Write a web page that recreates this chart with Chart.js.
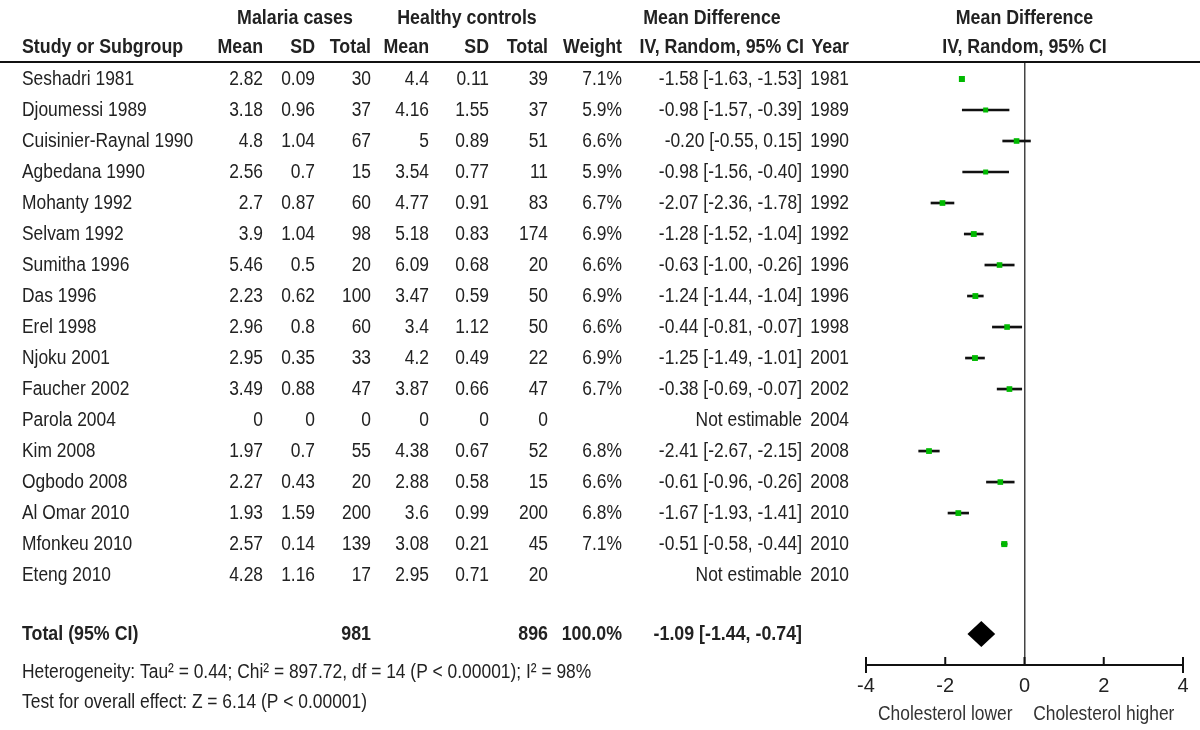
<!DOCTYPE html>
<html>
<head>
<meta charset="utf-8">
<script src="https://cdn.jsdelivr.net/npm/chart.js@4.4.1/dist/chart.umd.min.js"></script>
<style>
  html, body { margin: 0; padding: 0; background: #fff; }
  canvas { display: block; }
</style>
</head>
<body>
<canvas id="forest" width="1200" height="730"></canvas>
<script>
// study rows
const studies = ['Seshadri 1981', 'Djoumessi 1989', 'Cuisinier-Raynal 1990', 'Agbedana 1990', 'Mohanty 1992',
  'Selvam 1992', 'Sumitha 1996', 'Das 1996', 'Erel 1998', 'Njoku 2001', 'Faucher 2002', 'Parola 2004',
  'Kim 2008', 'Ogbodo 2008', 'Al Omar 2010', 'Mfonkeu 2010', 'Eteng 2010'];
const years = [1981, 1989, 1990, 1990, 1992, 1992, 1996, 1996, 1998, 2001, 2002, 2004, 2008, 2008, 2010, 2010, 2010];

// malaria cases
const caseMean = [2.82, 3.18, 4.8, 2.56, 2.7, 3.9, 5.46, 2.23, 2.96, 2.95, 3.49, 0, 1.97, 2.27, 1.93, 2.57, 4.28];
const caseSD = [0.09, 0.96, 1.04, 0.7, 0.87, 1.04, 0.5, 0.62, 0.8, 0.35, 0.88, 0, 0.7, 0.43, 1.59, 0.14, 1.16];
const caseN = [30, 37, 67, 15, 60, 98, 20, 100, 60, 33, 47, 0, 55, 20, 200, 139, 17];

// healthy controls
const ctrlMean = [4.4, 4.16, 5, 3.54, 4.77, 5.18, 6.09, 3.47, 3.4, 4.2, 3.87, 0, 4.38, 2.88, 3.6, 3.08, 2.95];
const ctrlSD = [0.11, 1.55, 0.89, 0.77, 0.91, 0.83, 0.68, 0.59, 1.12, 0.49, 0.66, 0, 0.67, 0.58, 0.99, 0.21, 0.71];
const ctrlN = [39, 37, 51, 11, 83, 174, 20, 50, 50, 22, 47, 0, 52, 15, 200, 45, 20];

// mean difference, IV random (null = not estimable)
const weights = [7.1, 5.9, 6.6, 5.9, 6.7, 6.9, 6.6, 6.9, 6.6, 6.9, 6.7, null, 6.8, 6.6, 6.8, 7.1, null];
const md = [-1.58, -0.98, -0.20, -0.98, -2.07, -1.28, -0.63, -1.24, -0.44, -1.25, -0.38, null, -2.41, -0.61, -1.67, -0.51, null];
const ciLow = [-1.63, -1.57, -0.55, -1.56, -2.36, -1.52, -1.00, -1.44, -0.81, -1.49, -0.69, null, -2.67, -0.96, -1.93, -0.58, null];
const ciHigh = [-1.53, -0.39, 0.15, -0.40, -1.78, -1.04, -0.26, -1.04, -0.07, -1.01, -0.07, null, -2.15, -0.26, -1.41, -0.44, null];

// pooled result
const totalCases = 981;
const totalCtrl = 896;
const totalWeight = 100.0;
const totalMd = -1.09;
const totalLow = -1.44;
const totalHigh = -0.74;
const heterogeneity = 'Heterogeneity: Tau\u00b2 = 0.44; Chi\u00b2 = 897.72, df = 14 (P < 0.00001); I\u00b2 = 98%';
const overallTest = 'Test for overall effect: Z = 6.14 (P < 0.00001)';

// axis
const xTicks = [-4, -2, 0, 2, 4];
const favourLabels = ['Cholesterol lower', 'Cholesterol higher'];

const FONT = '"Liberation Sans", Arial, sans-serif';
const TEXT = '#222';
const TOTAL_ROW = 17.9;
const HET_ROW = 19.15;
const TEST_ROW = 20.12;

const fmt = (v) => (v < 0 ? '-' : '') + Math.abs(v).toFixed(2);

// indices of rows that have an estimate
const est = studies.map((_, i) => i).filter((i) => md[i] !== null);

const tablePlugin = {
  id: 'forestTable',
  afterDraw(chart) {
    const ctx = chart.ctx;
    const xs = chart.scales.x;
    const ys = chart.scales.y;
    const rowY = (r) => ys.getPixelForValue(r);

    // narrow face: squeeze Liberation Sans horizontally
    const text = (s, x, y, align, bold) => {
      ctx.save();
      ctx.font = (bold ? 'bold ' : '') + '20px ' + FONT;
      ctx.textAlign = align;
      ctx.translate(x, y);
      ctx.scale(bold ? 0.89 : 0.87, 1);
      ctx.fillText(s, 0, 0);
      ctx.restore();
    };

    ctx.save();
    ctx.fillStyle = TEXT;
    ctx.textBaseline = 'middle';

    // header
    text('Malaria cases', 295, 18, 'center', true);
    text('Healthy controls', 467, 18, 'center', true);
    text('Mean Difference', 712, 18, 'center', true);
    text('Mean Difference', xs.getPixelForValue(0), 18, 'center', true);
    text('Study or Subgroup', 22, 47, 'left', true);
    text('Mean', 263, 47, 'right', true);
    text('SD', 315, 47, 'right', true);
    text('Total', 371, 47, 'right', true);
    text('Mean', 429, 47, 'right', true);
    text('SD', 489, 47, 'right', true);
    text('Total', 548, 47, 'right', true);
    text('Weight', 622, 47, 'right', true);
    text('IV, Random, 95% CI', 804, 47, 'right', true);
    text('Year', 849, 47, 'right', true);
    text('IV, Random, 95% CI', xs.getPixelForValue(0), 47, 'center', true);

    ctx.strokeStyle = '#111';
    ctx.lineWidth = 2;
    ctx.beginPath();
    ctx.moveTo(0, 62);
    ctx.lineTo(1200, 62);
    ctx.stroke();

    // study rows
    studies.forEach((name, i) => {
      const y = rowY(i);
      text(name, 22, y, 'left');
      text(String(caseMean[i]), 263, y, 'right');
      text(String(caseSD[i]), 315, y, 'right');
      text(String(caseN[i]), 371, y, 'right');
      text(String(ctrlMean[i]), 429, y, 'right');
      text(String(ctrlSD[i]), 489, y, 'right');
      text(String(ctrlN[i]), 548, y, 'right');
      if (weights[i] !== null) text(weights[i].toFixed(1) + '%', 622, y, 'right');
      const ci = md[i] === null ? 'Not estimable'
        : fmt(md[i]) + ' [' + fmt(ciLow[i]) + ', ' + fmt(ciHigh[i]) + ']';
      text(ci, 802, y, 'right');
      text(String(years[i]), 849, y, 'right');
    });

    // total row
    const ty = rowY(TOTAL_ROW);
    text('Total (95% CI)', 22, ty, 'left', true);
    text(String(totalCases), 371, ty, 'right', true);
    text(String(totalCtrl), 548, ty, 'right', true);
    text(totalWeight.toFixed(1) + '%', 622, ty, 'right', true);
    text(fmt(totalMd) + ' [' + fmt(totalLow) + ', ' + fmt(totalHigh) + ']', 802, ty, 'right', true);
    text(heterogeneity, 22, rowY(HET_ROW), 'left');
    text(overallTest, 22, rowY(TEST_ROW), 'left');

    // pooled diamond
    const dL = xs.getPixelForValue(totalLow);
    const dC = xs.getPixelForValue(totalMd);
    const dR = xs.getPixelForValue(totalHigh);
    ctx.fillStyle = '#000';
    ctx.beginPath();
    ctx.moveTo(dL, ty);
    ctx.lineTo(dC, ty - 13);
    ctx.lineTo(dR, ty);
    ctx.lineTo(dC, ty + 13);
    ctx.closePath();
    ctx.fill();

    // axis tick marks pointing up
    const axisY = chart.chartArea.bottom;
    ctx.strokeStyle = '#111';
    ctx.lineWidth = 2;
    xTicks.forEach((v, k) => {
      const x = xs.getPixelForValue(v);
      const end = k === 0 || k === xTicks.length - 1;
      ctx.beginPath();
      ctx.moveTo(x, axisY - 8);
      ctx.lineTo(x, end ? axisY + 8 : axisY);
      ctx.stroke();
    });

    // favours labels
    ctx.fillStyle = '#333';
    text(favourLabels[0], xs.getPixelForValue(-2), 714, 'center');
    text(favourLabels[1], xs.getPixelForValue(2), 714, 'center');
    ctx.restore();
  },
};

new Chart(document.getElementById('forest'), {
  type: 'scatter',
  data: {
    datasets: [
      {
        type: 'scatter',
        data: est.map((i) => ({ x: md[i], y: i })),
        pointStyle: 'rect',
        pointRadius: est.map((i) => weights[i] * 0.6),
        backgroundColor: '#00b900',
        borderWidth: 0,
        order: 0,
      },
      {
        type: 'bar',
        indexAxis: 'y',
        data: est.map((i) => ({ x: [ciLow[i], ciHigh[i]], y: i })),
        backgroundColor: '#111',
        barThickness: 2,
        order: 1,
      },
    ],
  },
  options: {
    responsive: false,
    animation: false,
    devicePixelRatio: 1,
    layout: { padding: { left: 866, right: 17, top: 62, bottom: 0 } },
    plugins: {
      legend: { display: false },
      tooltip: { enabled: false },
    },
    scales: {
      x: {
        type: 'linear',
        min: -4,
        max: 4,
        offset: false,
        afterFit: (scale) => { scale.height = 65; },
        afterBuildTicks: (scale) => { scale.ticks = xTicks.map((v) => ({ value: v })); },
        ticks: {
          color: '#222',
          padding: 9,
          font: { family: FONT, size: 20 },
          maxRotation: 0,
        },
        grid: {
          offset: false,
          drawTicks: false,
          lineWidth: 1.5,
          color: (c) => (c.tick && c.tick.value === 0 ? '#444' : 'rgba(0,0,0,0)'),
        },
        border: { display: true, color: '#111', width: 2 },
      },
      y: {
        type: 'linear',
        display: false,
        reverse: true,
        offset: false,
        grid: { offset: false },
        min: -0.548,
        max: 18.9,
      },
    },
  },
  plugins: [tablePlugin],
});
</script>
</body>
</html>
